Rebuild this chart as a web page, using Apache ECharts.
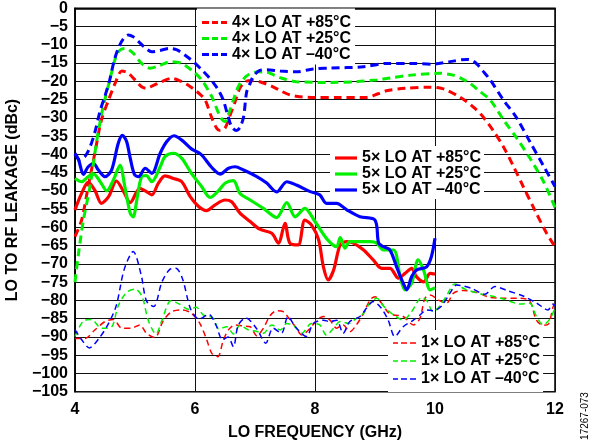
<!DOCTYPE html>
<html>
<head>
<meta charset="utf-8">
<script src="https://cdn.jsdelivr.net/npm/echarts@6/dist/echarts.min.js"></script>
<style>html,body{margin:0;padding:0;background:#fff}#c{width:592px;height:446px}</style>
</head>
<body>
<div id="c"></div>
<script>
// ---- DATA ----
var xTicks = [4, 6, 8, 10, 12];
var names4 = ['4× LO AT +85°C', '4× LO AT +25°C', '4× LO AT –40°C'];
var names5 = ['5× LO AT +85°C', '5× LO AT +25°C', '5× LO AT –40°C'];
var names1 = ['1× LO AT +85°C', '1× LO AT +25°C', '1× LO AT –40°C'];

var f4x85 = [4.0,4.11,4.22,4.33,4.44,4.56,4.67,4.78,4.88,5.0,5.11,5.19,5.3,5.44,5.61,5.78,5.9,6.0,6.1,6.17,6.28,6.36,6.42,6.5,6.58,6.67,6.75,6.85,6.95,7.08,7.3,7.45,7.58,7.75,8.0,8.4,8.86,9.05,9.19,9.5,9.92,10.1,10.19,10.36,10.53,10.67,10.8,10.97,11.14,11.3,11.47,11.67,11.86,12.0];
var v4x85 = [-62.5,-58,-48.8,-39.7,-30.6,-25.1,-20.5,-17.2,-17.7,-19.6,-21.5,-21.9,-21.2,-20.1,-19.2,-20.1,-21.2,-22.4,-23.8,-25.1,-30.0,-32.8,-33.5,-32.8,-29.5,-25.5,-21.8,-20.0,-19.8,-20.1,-21.5,-22.8,-23.7,-24.2,-24.4,-24.4,-24.4,-23.4,-22.6,-21.9,-21.6,-21.9,-22.4,-23.8,-25.6,-27.5,-29.7,-33.5,-37.9,-43,-48.8,-55.5,-61.6,-65.3];

var f4x25 = [4.0,4.06,4.14,4.25,4.36,4.42,4.47,4.58,4.69,4.76,4.83,4.97,5.11,5.25,5.39,5.61,5.78,5.94,6.11,6.28,6.42,6.5,6.58,6.64,6.72,6.8,6.89,7.05,7.19,7.42,7.69,8.25,8.69,9.03,9.25,9.6,10.08,10.3,10.45,10.58,10.75,10.92,11.14,11.36,11.58,11.81,12.0];
var v4x25 = [-75,-67,-58,-48.8,-36.5,-31,-26.9,-19.6,-12.8,-11.3,-11.0,-12.3,-15.1,-16.4,-15.8,-14.6,-15.1,-16.9,-19.6,-24.2,-29.7,-31.0,-28.0,-25.1,-21.5,-19.5,-18.2,-17.4,-17.5,-19.0,-20.1,-20.3,-20.1,-19.6,-19.1,-18.3,-17.8,-18.3,-19.3,-20.5,-22.8,-25.1,-30.5,-35.5,-41,-47.5,-54.5];

var f4x40 = [4.0,4.08,4.17,4.25,4.33,4.42,4.5,4.58,4.65,4.72,4.8,4.89,4.97,5.06,5.17,5.28,5.4,5.58,5.7,5.83,6.0,6.11,6.22,6.31,6.39,6.47,6.55,6.61,6.69,6.75,6.81,6.86,6.92,6.97,7.08,7.19,7.42,7.69,7.97,8.25,8.81,9.19,9.6,9.97,10.25,10.53,10.62,10.7,10.8,10.92,11.14,11.36,11.58,11.81,12.0];
var v4x40 = [-40,-41.5,-40.5,-38,-34,-28,-24,-19.5,-14.5,-11,-8.5,-7.3,-7.8,-9.1,-10.8,-11.9,-11.6,-11.0,-11.4,-12.8,-15.0,-16.8,-18.7,-20.5,-22.4,-25.1,-29.5,-32.4,-33.5,-32.6,-29.7,-23,-20.5,-18.6,-17.0,-16.8,-17.2,-17.4,-16.6,-16.4,-16.0,-15.1,-15.1,-15.3,-14.6,-14.0,-14.3,-15.3,-17.2,-19.6,-25.1,-30.0,-36.5,-43.2,-48.8];

var f5x85 = [4.0,4.11,4.22,4.33,4.44,4.56,4.69,4.81,4.92,5.08,5.19,5.28,5.39,5.5,5.64,5.78,5.92,6.06,6.19,6.33,6.5,6.61,6.75,6.92,7.08,7.28,7.39,7.5,7.58,7.72,7.83,7.94,8.06,8.14,8.22,8.31,8.42,8.53,8.64,8.81,8.97,9.11,9.25,9.39,9.5,9.61,9.69,9.81,9.92,10.0];
var v5x85 = [-55.2,-50.7,-47.7,-49.8,-53.4,-51.6,-47.3,-50.2,-53.2,-49.3,-50.2,-51.1,-47.9,-45.9,-46.6,-47.5,-51.6,-54.3,-55.4,-53.9,-52.5,-53,-56.1,-58.4,-60.5,-61.6,-64.3,-58.9,-64.3,-64.8,-58,-59.3,-63.4,-70.8,-74.4,-71.7,-64.8,-63.9,-64.3,-66.2,-68.9,-71.2,-71.2,-73.9,-72.6,-71.2,-73.5,-74.9,-72.6,-72.8];

var f5x25 = [4.0,4.11,4.22,4.31,4.42,4.53,4.64,4.75,4.83,4.92,4.97,5.03,5.11,5.19,5.28,5.42,5.5,5.64,5.78,5.94,6.11,6.25,6.39,6.5,6.64,6.75,6.92,7.14,7.36,7.53,7.67,7.83,8.0,8.19,8.36,8.42,8.5,8.58,8.75,8.92,9.03,9.14,9.31,9.42,9.5,9.61,9.72,9.81,9.92,10.0];
var v5x25 = [-46.6,-47.5,-46.1,-45.4,-47.5,-50,-47,-43,-48.8,-56.1,-57.1,-52.5,-46.1,-45.8,-47.5,-43.4,-40.6,-39.7,-41.1,-45.2,-48.8,-51.8,-50,-47.9,-47.2,-50.7,-52.5,-54.8,-57.3,-53.2,-57.1,-54.8,-58.4,-63,-65.3,-62.8,-65.7,-63.9,-63.9,-63.9,-64.3,-66.2,-66.2,-73.5,-77.1,-75.3,-68.9,-71.7,-77.1,-76.5];

var f5x40 = [4.0,4.06,4.14,4.22,4.31,4.39,4.5,4.61,4.72,4.79,4.86,4.92,4.99,5.06,5.17,5.28,5.42,5.53,5.65,5.78,5.94,6.1,6.28,6.42,6.56,6.67,6.81,7.03,7.19,7.36,7.53,7.69,7.92,8.08,8.19,8.36,8.53,8.75,9.0,9.06,9.14,9.25,9.36,9.47,9.53,9.61,9.69,9.86,9.94,10.0];
var v5x40 = [-39.7,-41.5,-45.5,-43.4,-42.5,-44.3,-46.1,-44.3,-37,-34.8,-36.5,-41,-45.5,-46.1,-43.8,-45.2,-39.7,-36.5,-34.9,-36.1,-38.5,-40.0,-43.6,-45.4,-43.8,-43.4,-44.3,-46.1,-47.8,-50.3,-47.5,-48.4,-50.2,-51.1,-53.4,-53.4,-55.2,-57.1,-58,-64.3,-65.3,-66.2,-70.8,-75.3,-77.1,-73.5,-71.7,-70.8,-68,-63];

var f1x85 = [4.0,4.17,4.33,4.5,4.64,4.78,4.94,5.08,5.19,5.33,5.47,5.61,5.78,5.94,6.08,6.19,6.28,6.38,6.47,6.56,6.67,6.8,6.92,7.03,7.14,7.25,7.36,7.47,7.58,7.69,7.78,7.92,8.03,8.14,8.25,8.36,8.47,8.58,8.69,8.81,8.92,9.0,9.11,9.22,9.31,9.47,9.64,9.75,9.83,9.92,10.06,10.19,10.31,10.47,10.69,10.92,11.14,11.42,11.58,11.69,11.8,11.89,11.97,12.0];
var v1x85 = [-90.4,-90.4,-88.1,-85.8,-85.2,-87.6,-87.6,-86.7,-89,-90.2,-85.6,-83.1,-82.6,-83.5,-86.3,-90.5,-94.5,-95.4,-91,-88,-86.7,-87,-87.2,-89.7,-87.6,-84.2,-82.8,-83.1,-85.2,-87.6,-89.5,-87.6,-85.4,-84.4,-85.4,-87.6,-86.7,-88.6,-86.7,-83.5,-79.8,-79,-80.8,-83.3,-84,-84.4,-86.7,-84.9,-79.5,-78.5,-79.9,-80.8,-78,-77.3,-77.8,-79.2,-79.4,-79.4,-80.2,-85.4,-86.8,-86.5,-81.7,-81];

var f1x25 = [4.0,4.14,4.27,4.44,4.6,4.72,4.86,5.0,5.12,5.22,5.35,5.45,5.6,5.74,5.89,6.02,6.14,6.3,6.4,6.53,6.64,6.75,6.88,7.03,7.14,7.28,7.42,7.53,7.65,7.78,7.94,8.08,8.19,8.31,8.42,8.56,8.69,8.81,8.92,9.03,9.15,9.31,9.47,9.61,9.78,9.86,9.97,10.08,10.19,10.33,10.5,10.75,10.92,11.14,11.42,11.58,11.69,11.8,11.92,12.0];
var v1x25 = [-89.9,-85.6,-85.2,-87.6,-87.4,-81.5,-77.8,-76.9,-79,-85.4,-89.2,-85.4,-80.1,-81,-82.4,-81.9,-84,-84.8,-87.8,-87.2,-89.2,-86.8,-88,-88.5,-89,-86.7,-88.1,-86.3,-87,-89,-86.3,-86.7,-89.5,-87.6,-85.8,-86.3,-84.9,-83.5,-80.6,-79.4,-81.7,-84,-85.4,-83.1,-79.2,-80,-83.1,-81.5,-78.8,-75.5,-76.9,-78.2,-78.7,-79.6,-81,-80.8,-84.4,-86.7,-85,-82];

var f1x40 = [4.0,4.1,4.24,4.4,4.56,4.69,4.82,4.97,5.1,5.19,5.31,5.45,5.58,5.68,5.79,5.93,6.07,6.23,6.35,6.46,6.55,6.64,6.72,6.85,7.03,7.18,7.3,7.44,7.55,7.67,7.86,7.97,8.14,8.25,8.36,8.47,8.58,8.75,8.86,8.97,9.1,9.22,9.33,9.47,9.64,9.75,9.86,9.97,10.11,10.25,10.36,10.61,10.83,11.0,11.2,11.47,11.7,11.88,11.97,12.0];
var v1x40 = [-88,-90.5,-93,-90.4,-86.3,-81.3,-71.5,-66.6,-72.8,-80.1,-81.7,-74.9,-71.5,-71.2,-74,-82.5,-85.1,-83.8,-86.8,-90.8,-90,-92.7,-86.8,-84.8,-87.8,-91.7,-87.6,-89,-84.4,-87.2,-89.9,-86.3,-85.4,-85.8,-85.4,-89,-85.8,-84.4,-82.1,-80.3,-82,-85.4,-89.9,-87.2,-85.4,-84,-82.6,-82.8,-81.5,-78,-75.8,-76.7,-78.3,-76.2,-77.3,-78.8,-80.8,-82.6,-81,-81.5];

// ---- BUILD ----
function zip(f, v) { return f.map(function (x, i) { return [x, v[i]]; }); }
var RED = '#ff0000', GREEN = '#00f000', BLUE = '#0000ff';
var FONT = 'Liberation Sans, Arial, Helvetica, sans-serif';

function mk(name, f, v, color, kind) {
  var ls = { color: color };
  if (kind === 4) { ls.width = 3; ls.type = [8, 5]; }
  else if (kind === 5) { ls.width = 3.2; ls.type = 'solid'; }
  else { ls.width = 1.5; ls.type = [6, 4]; }
  return {
    name: name, type: 'line', data: zip(f, v), symbol: 'none', smooth: 0.3,
    lineStyle: ls, itemStyle: { color: color }, z: 3, animation: false
  };
}

var series = [
  mk(names1[0], f1x85, v1x85, RED, 1),
  mk(names1[1], f1x25, v1x25, GREEN, 1),
  mk(names1[2], f1x40, v1x40, BLUE, 1),
  mk(names5[0], f5x85, v5x85, RED, 5),
  mk(names5[1], f5x25, v5x25, GREEN, 5),
  mk(names5[2], f5x40, v5x40, BLUE, 5),
  mk(names4[0], f4x85, v4x85, RED, 4),
  mk(names4[1], f4x25, v4x25, GREEN, 4),
  mk(names4[2], f4x40, v4x40, BLUE, 4)
];

var ICON4 = 'path://M0,0h7v3h-7zM10,0h6v3h-6zM19,0h6v3h-6z';
var ICON5 = 'path://M0,0h22v3.2h-22z';
var ICON1 = 'path://M0,0h5v1.5h-5zM8,0h6v1.5h-6zM17,0h6v1.5h-6z';

function legend(data, icon, left, top, itemWidth, itemHeight, lineHeight, padding) {
  return {
    data: data, orient: 'vertical', left: left, top: top, icon: icon,
    itemWidth: itemWidth, itemHeight: itemHeight, itemGap: 0,
    padding: padding, backgroundColor: '#fff', selectedMode: false, z: 1,
    textStyle: { color: '#000', fontWeight: 'bold', fontSize: 16, fontFamily: FONT, lineHeight: lineHeight }
  };
}

var chart = echarts.init(document.getElementById('c'), null, { renderer: 'canvas' });
chart.setOption({
  backgroundColor: '#fff',
  animation: false,
  grid: { left: 75, right: 37, top: 8.3, bottom: 54.3, show: true, borderColor: '#000', borderWidth: 1.5,
    containLabel: false, outerBoundsMode: 'none' },
  xAxis: {
    type: 'value', min: 4, max: 12, interval: 2,
    name: 'LO FREQUENCY (GHz)', nameLocation: 'middle', nameGap: 33,
    nameTextStyle: { color: '#000', fontWeight: 'bold', fontSize: 16, fontFamily: FONT },
    axisLine: { show: true, lineStyle: { color: '#000', width: 1.5 } },
    axisTick: { show: false },
    splitLine: { show: true, lineStyle: { color: '#111', width: 1 } },
    axisLabel: { color: '#000', fontWeight: 'bold', fontSize: 16, fontFamily: FONT, margin: 10,
      formatter: function (v) { return xTicks.indexOf(v) >= 0 ? String(v) : ''; } }
  },
  yAxis: {
    type: 'value', min: -105, max: 0, interval: 5,
    name: 'LO TO RF LEAKAGE (dBc)', nameLocation: 'middle', nameGap: 51, nameRotate: 90,
    nameTextStyle: { color: '#000', fontWeight: 'bold', fontSize: 16, fontFamily: FONT },
    axisLine: { show: true, lineStyle: { color: '#000', width: 1.5 } },
    axisTick: { show: false },
    splitLine: { show: true, lineStyle: { color: '#111', width: 1 } },
    axisLabel: { color: '#000', fontWeight: 'bold', fontSize: 16, fontFamily: FONT, margin: 7,
      formatter: function (v) { return String(v).replace('-', '−'); } }
  },
  legend: [
    legend(names4, ICON4, 197, 8.5, 25, 3, 15, [6, 4, 2, 5]),
    legend(names5, ICON5, 330, 146, 22, 3.2, 16, [4, 3, 1, 5]),
    legend(names1, ICON1, 388, 330, 23, 1.5, 18, [4, 3, 4, 5])
  ],
  graphic: [{
    type: 'text', x: 585, y: 416, rotation: Math.PI / 2,
    style: { text: '17267-073', font: '10px ' + FONT, fill: '#000', align: 'center', verticalAlign: 'middle' }
  }],
  series: series
});
</script>
</body>
</html>
